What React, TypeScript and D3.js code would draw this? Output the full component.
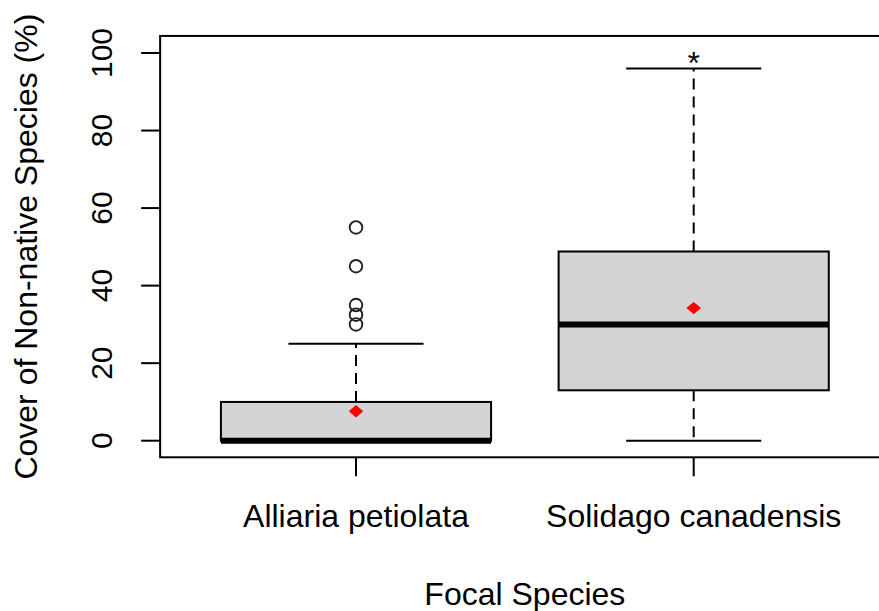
import React from "react";
import * as d3 from "d3";

// Boxplot summaries per focal species
const categories: string[] = ["Alliaria petiolata", "Solidago canadensis"];
const lowerWhisker: number[] = [0, 0];
const q1: number[] = [0, 13];
const median: number[] = [0, 30];
const q3: number[] = [10, 48.8];
const upperWhisker: number[] = [25, 96];
const means: number[] = [7.6, 34.2];
const outliers: number[][] = [[55, 45, 35, 32.5, 30], []];
// significance marker above the second group
const markerText: string[] = ["", "*"];
const markerValue: number[] = [0, 99];

const yTicks: number[] = [0, 20, 40, 60, 80, 100];
const xTitle = "Focal Species";
const yTitle = "Cover of Non-native Species (%)";

const W = 879;
const H = 611;
const FONT = "'Liberation Sans', Arial, Helvetica, sans-serif";
const FS = 32;

export default function App() {
  // plot region (R-style, 4% padding around data range)
  const x = d3.scaleLinear().domain([1, 2]).range([356, 693.7]);
  const y = d3.scaleLinear().domain([0, 100]).range([440.7, 53]);
  const frameLeft = x(0.42);
  const frameRight = x(2.58);
  const frameTop = y(104.4);
  const frameBottom = y(-4.28);
  const boxHalf = (x(2) - x(1)) * 0.4;
  const capHalf = boxHalf * 0.5;

  const diamond = d3.symbol().type(d3.symbolDiamond2).size(135)();

  return (
    <svg
      width={W}
      height={H}
      style={{ position: "absolute", left: 0, top: 0, background: "#fff" }}
      fontFamily={FONT}
    >
      {/* boxes */}
      {categories.map((c, i) => {
        const cx = x(i + 1);
        return (
          <g key={c}>
            {/* upper whisker */}
            <line x1={cx} x2={cx} y1={y(q3[i])} y2={y(upperWhisker[i])} stroke="#000" strokeWidth={2} strokeDasharray="11,7" />
            <line x1={cx - capHalf} x2={cx + capHalf} y1={y(upperWhisker[i])} y2={y(upperWhisker[i])} stroke="#000" strokeWidth={2} />
            {/* lower whisker */}
            {lowerWhisker[i] < q1[i] && (
              <>
                <line x1={cx} x2={cx} y1={y(q1[i])} y2={y(lowerWhisker[i])} stroke="#000" strokeWidth={2} strokeDasharray="11,7" />
                <line x1={cx - capHalf} x2={cx + capHalf} y1={y(lowerWhisker[i])} y2={y(lowerWhisker[i])} stroke="#000" strokeWidth={2} />
              </>
            )}
            <rect
              x={cx - boxHalf}
              y={y(q3[i])}
              width={boxHalf * 2}
              height={y(q1[i]) - y(q3[i])}
              fill="#d3d3d3"
              stroke="#000"
              strokeWidth={2}
            />
            <line x1={cx - boxHalf} x2={cx + boxHalf} y1={y(median[i])} y2={y(median[i])} stroke="#000" strokeWidth={6} />
            {outliers[i].map((v, j) => (
              <circle key={j} cx={cx} cy={y(v)} r={6.3} fill="none" stroke="#222" strokeWidth={1.9} />
            ))}
            <path d={diamond ?? ""} transform={`translate(${cx},${y(means[i])}) scale(1,0.85)`} fill="#ff0000" />
            {markerText[i] && (
              <text x={cx} y={y(markerValue[i])} dy={17.5} textAnchor="middle" fontSize={FS} fill="#000">
                {markerText[i]}
              </text>
            )}
          </g>
        );
      })}

      {/* frame */}
      <rect x={frameLeft} y={frameTop} width={frameRight - frameLeft} height={frameBottom - frameTop} fill="none" stroke="#000" strokeWidth={2} />

      {/* y axis */}
      {yTicks.map((t) => (
        <g key={t}>
          <line x1={frameLeft - 19} x2={frameLeft} y1={y(t)} y2={y(t)} stroke="#000" strokeWidth={2} />
          <text
            transform={`translate(112,${y(t)}) rotate(-90)`}
            textAnchor="middle"
            fontSize={30}
            fill="#000"
          >
            {t}
          </text>
        </g>
      ))}

      {/* x axis */}
      {categories.map((c, i) => (
        <g key={c}>
          <line x1={x(i + 1)} x2={x(i + 1)} y1={frameBottom} y2={frameBottom + 19} stroke="#000" strokeWidth={2} />
          <text x={x(i + 1)} y={527} textAnchor="middle" fontSize={FS} fill="#000">
            {c}
          </text>
        </g>
      ))}

      <text x={(frameLeft + frameRight) / 2} y={605} textAnchor="middle" fontSize={FS} fill="#000">
        {xTitle}
      </text>
      <text
        transform={`translate(37,${(frameTop + frameBottom) / 2}) rotate(-90)`}
        textAnchor="middle"
        fontSize={FS}
        fill="#000"
      >
        {yTitle}
      </text>
    </svg>
  );
}
